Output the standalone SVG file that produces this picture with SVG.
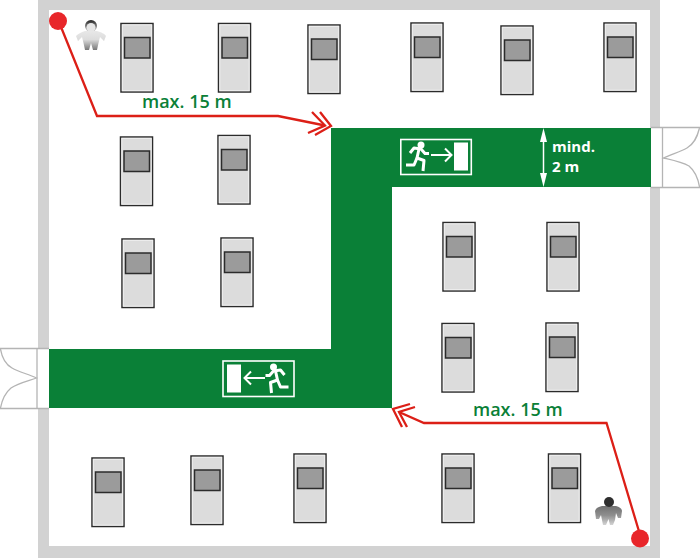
<svg xmlns="http://www.w3.org/2000/svg" width="700" height="558" viewBox="0 0 700 558">
<style>
.m{fill:#dcdcdc;stroke:#2b2b2b;stroke-width:1.5}
.i{fill:none;stroke:#f0f0f0;stroke-width:1}
.s{fill:#9b9b9b;stroke:#2b2b2b;stroke-width:1.5}
.d{fill:none;stroke:#b4b4b4;stroke-width:1.3}
.r{fill:none;stroke:#dc1f17;stroke-width:2.3;stroke-linejoin:miter}
.t{font-family:"Open Sans","Noto Sans",sans-serif;font-weight:600;font-size:18px;fill:#0a8037}
.w{font-family:"Open Sans","Noto Sans",sans-serif;font-weight:700;font-size:15px;fill:#fff}
.sg{fill:none;stroke:#fff;stroke-width:2}
.rn{fill:none;stroke:#fff;stroke-width:3;stroke-linejoin:round}
.sf{fill:#fff}
</style>
<defs>
<g id="machine"><rect class="m" width="32" height="68.500"/><rect class="i" x="1.300" y="1.300" width="29.400" height="65.900"/><rect class="s" x="3.500" y="14" width="25.500" height="20.500"/></g>
<linearGradient id="pa" x1="0" y1="0" x2="0" y2="1"><stop offset="0" stop-color="#e8e8e8"/><stop offset=".45" stop-color="#dcdcdc"/><stop offset="1" stop-color="#777"/></linearGradient>
<linearGradient id="ph" x1="0" y1="0" x2="0" y2="1"><stop offset="0" stop-color="#222"/><stop offset=".5" stop-color="#777"/><stop offset="1" stop-color="#ddd"/></linearGradient>
<linearGradient id="pb" x1="0" y1="0" x2="0" y2="1"><stop offset="0" stop-color="#707070"/><stop offset=".5" stop-color="#8f8f8f"/><stop offset="1" stop-color="#d4d4d4"/></linearGradient>
<g id="runner"><circle cx="0" cy="0" r="3.500" class="sf"/><path class="rn" d="M-11 8L-7 3L0 4L4 8.500H8"/><path class="rn" d="M-2 4L-4 13L3 15.500L2 26"/><path class="rn" d="M-4 13L-7 20H-15"/></g>
</defs>
<g id="walls" fill="#d2d2d2">
<rect x="38" y="0" width="622" height="10"/><rect x="38" y="546" width="622" height="12"/><rect x="38" y="0" width="11" height="558"/><rect x="650" y="0" width="10" height="558"/>
</g>
<g id="escape-route"><path d="M331 128H651V187H392V408H49V349H331Z" fill="#0a8037"/></g>
<g id="door-right"><rect x="651" y="127.500" width="49" height="60" fill="#fff"/><path class="d" d="M651 127.500H700M651 187.500H700M662.500 127.500V187.500"/><path class="d" d="M699.500 128C697 138 694 144 687 148C680 152 672 154 663.500 158C672 160 682 162 689 166C695 171 698 178 699.500 187"/></g>
<g id="door-left"><rect x="0" y="348" width="49" height="61" fill="#fff"/><path class="d" d="M0 348.500H49M0 408.500H49M37 348.500V408.500"/><path class="d" d="M0.500 349C2 358 5 364 12 368C19 372 28 374 36.500 378C28 381 18 383 11 388C5 393 2 400 0.500 408"/></g>
<g id="machines">
<use href="#machine" x="121" y="23.500"/><use href="#machine" x="218.500" y="23.500"/><use href="#machine" x="308" y="25"/><use href="#machine" x="411" y="23"/><use href="#machine" x="501" y="26"/><use href="#machine" x="604" y="23"/>
<use href="#machine" x="120.500" y="137"/><use href="#machine" x="218" y="135.500"/><use href="#machine" x="122" y="239"/><use href="#machine" x="221" y="238"/>
<use href="#machine" x="443" y="222.500"/><use href="#machine" x="547" y="222.500"/><use href="#machine" x="442" y="323.500"/><use href="#machine" x="546" y="323"/>
<use href="#machine" x="92" y="458"/><use href="#machine" x="191" y="456"/><use href="#machine" x="294" y="454"/><use href="#machine" x="442" y="454"/><use href="#machine" x="548.500" y="454"/>
</g>
<g id="person-top"><circle cx="91" cy="26" r="6" fill="url(#ph)"/><circle cx="91" cy="27.500" r="4.500" fill="#e6e6e6"/><path d="M85 31H97C101 32 105 34 106 36L104 41L100 37L98.500 43L97 50H93L91 43L89 50H85L83.500 43L82 37L78 41L76 36C78 34 81 32 85 31Z" fill="url(#pa)"/></g>
<g id="person-bottom"><path d="M602 506H616C620 507 622 509 622 511L621 518H618L616 513L615 520L613 525H610L608.500 519L606 525H603L601 515L599 519H596L595 511C596 508 598 507 602 506Z" fill="url(#pb)"/><circle cx="609" cy="502" r="5" fill="#2e2e2e"/></g>
<g id="connectors">
<path class="r" d="M59 22L97 116H278L325 125.500"/>
<path class="r" d="M320 112L331 126L315 135M312 112L325 125.500L308 133"/>
<path class="r" d="M641 538L606.500 423H424L399 412"/>
<path class="r" d="M410 404L393 409L402 427M415 407L399 412L407 427"/>
<circle cx="58" cy="21" r="9" fill="#e8262a"/>
<circle cx="640" cy="538.500" r="9" fill="#e8262a"/>
</g>
<g id="labels">
<text class="t" x="142" y="108">max. 15 m</text>
<text class="t" x="473" y="416">max. 15 m</text>
<text class="w" x="552" y="151.500">mind.</text>
<text class="w" x="552" y="171.500">2 m</text>
</g>
<g id="height-arrow" fill="#fff"><path d="M543.500 140V176" stroke="#fff" stroke-width="1.500"/><path d="M543.500 128L547 142H540ZM543.500 187L547 173H540Z"/></g>
<g id="sign-right"><rect x="400.800" y="139.500" width="70.500" height="35" fill="none" stroke="#fff" stroke-width="1.600"/><rect class="sf" x="454" y="142.500" width="14" height="28"/><use href="#runner" x="421" y="145"/><path d="M431 155H451M445 148.500L451.500 155L445 161.500" class="sg"/></g>
<g id="sign-left"><rect x="223" y="361" width="71" height="35.500" fill="none" stroke="#fff" stroke-width="1.600"/><rect class="sf" x="227" y="364.500" width="14" height="28"/><use href="#runner" transform="translate(273.500,367) scale(-1,1)"/><path d="M265 378H245M251 371.500L244.500 378L251 384.500" class="sg"/></g>
</svg>
